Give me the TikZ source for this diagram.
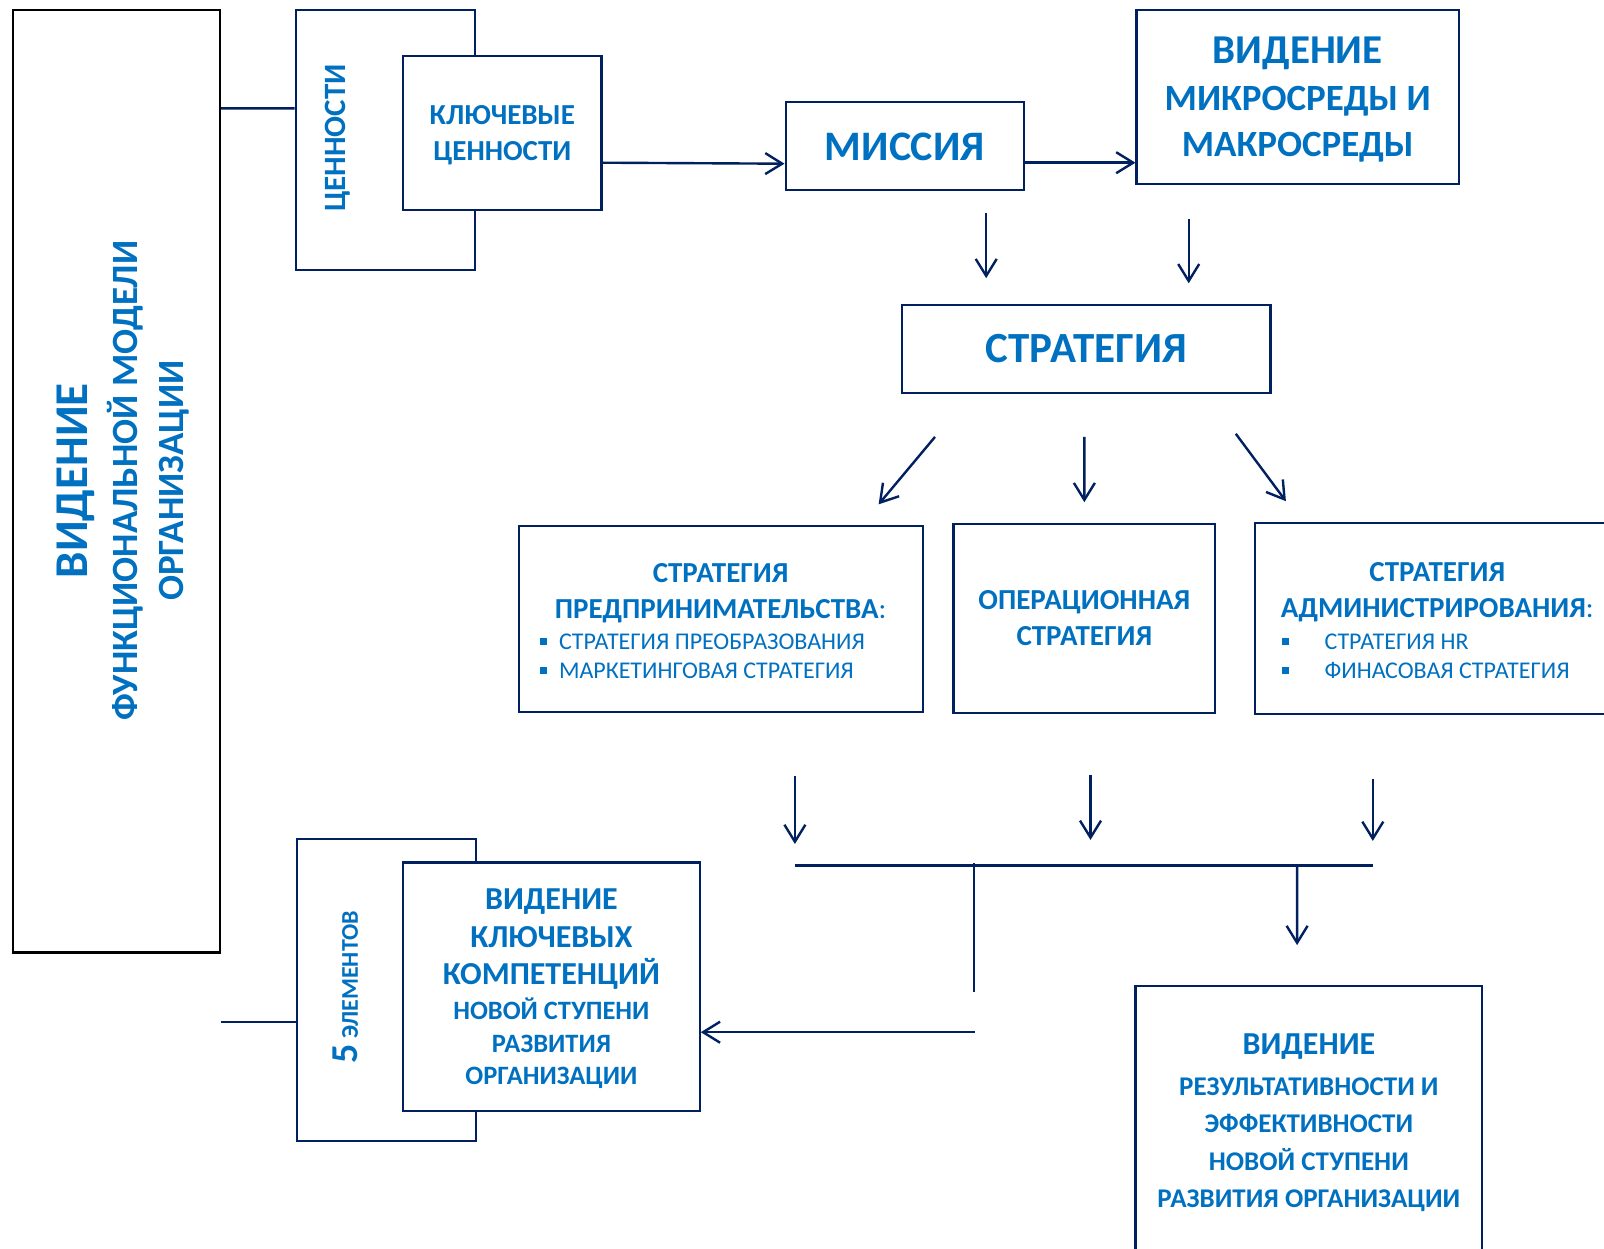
\documentclass[tikz,border=0pt]{standalone}
\usepackage{fontspec}
\setmainfont{Carlito}
\usepackage{tikz}
\usetikzlibrary{arrows.meta,calc,positioning}
\definecolor{myBlue}{HTML}{0070C0}
\definecolor{myNavy}{HTML}{002060}
\newcommand{\fsz}[2]{\fontsize{#1}{#2}\selectfont}
\newcommand{\sqbul}{\rule[0.2em]{0.28em}{0.28em}}
\tikzset{
  >={Straight Barb[length=17pt,width=21pt]},
  rect/.style={draw=myNavy,fill=white,line width=2.2pt,shape=rectangle,inner sep=0pt,text=myBlue,align=center,text depth=0pt},
  vtext/.style={rotate=90,inner sep=0pt,text=myBlue,align=center},
  htext/.style={inner sep=0pt,text=myBlue,align=center},
  list/.style={inner sep=0pt,text=myBlue,align=left,anchor=west,font=\fsz{24}{29}},
  conn/.style={draw=myNavy,line width=2.4pt},
  line/.style={conn,->},
}
\begin{document}
\begin{tikzpicture}[x=1pt,y=1pt]
  \useasboundingbox [fill=white] (0,0) rectangle (1604,-1249);

  \node (model) [rect,draw=black,minimum width=206.6pt,minimum height=942.2pt] at (116.6,-481.3) {};
  \node (modeltxt) [vtext,font=\bfseries\fsz{37}{46}] at (122.7,-480.8) {{\fsz{47}{50}ВИДЕНИЕ}\\[4pt]ФУНКЦИОНАЛЬНОЙ МОДЕЛИ\\ОРГАНИЗАЦИИ};

  \node (vals) [rect,minimum width=179.1pt,minimum height=259.9pt] at (385.2,-140.2) {};
  \node (valstxt) [vtext,font=\bfseries\fsz{31}{36}] at (337.6,-138.1) {ЦЕННОСТИ};
  \node (key) [rect,minimum width=198.4pt,minimum height=153.4pt,font=\bfseries\fsz{29}{36}] at (502.3,-133) {КЛЮЧЕВЫЕ\\ЦЕННОСТИ};

  \node (mis) [rect,minimum width=238.4pt,minimum height=88pt,font=\bfseries\fsz{42}{50}] at (904.8,-146.3) {МИССИЯ};
  \node (vmm) [rect,minimum width=322.3pt,minimum height=173.9pt,font=\bfseries\fsz{37}{46}] at (1297.7,-97.2) {{\fsz{41}{46}ВИДЕНИЕ}\\[1pt]МИКРОСРЕДЫ И\\МАКРОСРЕДЫ};
  \node (strat) [rect,minimum width=368.2pt,minimum height=88pt,font=\bfseries\fsz{43}{50}] at (1086.4,-348.8) {СТРАТЕГИЯ};

  \node (ent) [rect,minimum width=404.1pt,minimum height=186.2pt] at (720.65,-618.9) {};
  \node (enttxt) [htext,font=\bfseries\fsz{29}{36}] at (720.65,-593.5) {СТРАТЕГИЯ\\ПРЕДПРИНИМАТЕЛЬСТВА{\mdseries:}};
  \node (entlist) [list] at (540.1,-656.3) {\sqbul\hspace{12pt}СТРАТЕГИЯ ПРЕОБРАЗОВАНИЯ\\\sqbul\hspace{12pt}МАРКЕТИНГОВАЯ СТРАТЕГИЯ};
  \node (op) [rect,minimum width=261.9pt,minimum height=189.2pt,font=\bfseries\fsz{29}{36}] at (1084.35,-618.4) {ОПЕРАЦИОННАЯ\\СТРАТЕГИЯ};
  \node (adm) [rect,minimum width=363.8pt,minimum height=191.3pt] at (1437.1,-618.35) {};
  \node (admtxt) [htext,font=\bfseries\fsz{29}{36}] at (1437.3,-592.3) {СТРАТЕГИЯ\\АДМИНИСТРИРОВАНИЯ{\mdseries:}};
  \node (admlist) [list] at (1281.8,-656.7) {\sqbul\hspace{36pt}СТРАТЕГИЯ HR\\\sqbul\hspace{36pt}ФИНАСОВАЯ СТРАТЕГИЯ};

  \node (five) [rect,minimum width=179pt,minimum height=301.8pt] at (386.2,-989.7) {};
  \node (fivetxt) [vtext,font=\bfseries\fsz{24}{30}] at (345.8,-987.2) {{\fsz{38}{40}5} ЭЛЕМЕНТОВ};
  \node (comp) [rect,minimum width=296.6pt,minimum height=248.6pt,font=\bfseries\fsz{32}{38.5}] at (551.4,-986.7) {ВИДЕНИЕ\\КЛЮЧЕВЫХ\\[-1.7pt]КОМПЕТЕНЦИЙ\\[-3.8pt]{\fsz{26.5}{32}НОВОЙ СТУПЕНИ}\\[-5.8pt]{\fsz{26.5}{32}РАЗВИТИЯ}\\[-5.8pt]{\fsz{26.5}{32}ОРГАНИЗАЦИИ}};
  \node (res) [rect,minimum width=346.8pt,minimum height=268.8pt,font=\bfseries\fsz{27}{37.5}] at (1308.9,-1120.6) {{\fsz{32}{38}ВИДЕНИЕ}\\[3.4pt]РЕЗУЛЬТАТИВНОСТИ И\\ЭФФЕКТИВНОСТИ\\НОВОЙ СТУПЕНИ\\РАЗВИТИЯ ОРГАНИЗАЦИИ};

  \coordinate (busL) at (794.9,-865.4);
  \coordinate (busR) at (1372.8,-865.4);
  \coordinate (busJ) at (973.9,-863);
  \coordinate (busK) at (1297.1,-865.4);
  \coordinate (joinB) at (973.9,-992.3);
  \coordinate (joinC) at (974.9,-1032.2);

  \path [conn] ($(model.east)+(0,372.9)$) -- ($(vals.west)+(0,31.8)$);
  \path [line] ($(key.east)+(0,-29.7)$) -- ($(mis.west)+(0,-17.4)$);
  \path [line] ($(mis.east)+(0,-16.4)$) -- ($(vmm.west)+(0,-65.5)$);
  \path [line] ($(mis.south)+(81.4,-21.5)$) -- ($(strat.north)+(-100.2,25.5)$);
  \path [line] ($(vmm.south)+(-109,-33.8)$) -- ($(strat.north)+(102.3,20.4)$);
  \path [line] ($(strat.south)+(-151.4,-43)$) -- ($(ent.north)+(158,20.4)$);
  \path [line] ($(strat.south)+(-2,-43)$) -- ($(op.north)+(0,20.5)$);
  \path [line] ($(strat.south)+(149.4,-39.9)$) -- ($(adm.north)+(-151.2,20.4)$);
  \path [line] ($(ent.south)+(74.25,-62.4)$) -- ($(busL)+(0,21.4)$);
  \path [line] ($(op.south)+(6.15,-60.4)$) -- ($(op.south)+(6.15,-125.8)$);
  \path [line] ($(adm.south)+(-64.3,-63.5)$) -- ($(busR)+(0,24.5)$);
  \path [conn] (busL) -- (busR);
  \path [conn] (busJ) -- (joinB);
  \path [line] (busK) -- ($(res.north)+(-11.8,40)$);
  \path [line] (joinC) -- ($(comp.east)+(0,-45.5)$);
  \path [conn] ($(model.east)+(0,-540.7)$) -- ($(five.west)+(0,-32.3)$);
\end{tikzpicture}
\end{document}
